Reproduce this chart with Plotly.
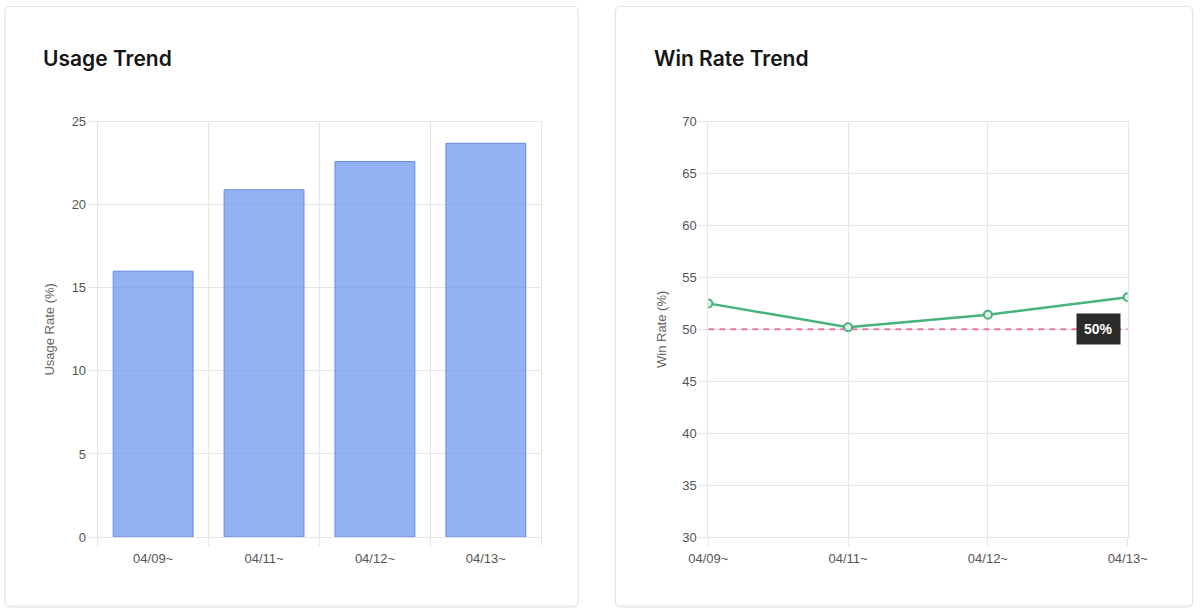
import plotly.graph_objects as go

# ---- data ----
categories = ["04/09~", "04/11~", "04/12~", "04/13~"]
usage_rate = [16.0, 20.9, 22.6, 23.7]
win_rate = [52.5, 50.2, 51.4, 53.1]
threshold = 50
usage_title = "Usage Trend"
win_title = "Win Rate Trend"

W, H = 1200, 616


def px(x):
    return x / W


def py(y):
    return 1 - y / H


GRID = "#e6e6e6"
TICKFONT = dict(family="Liberation Sans, Arial, sans-serif", size=13, color="#555")
AXTITLEFONT = dict(family="Liberation Sans, Arial, sans-serif", size=13, color="#666")

xs = list(range(len(categories)))

fig = go.Figure()

fig.add_trace(go.Bar(
    x=xs, y=usage_rate, width=0.72,
    marker=dict(color="rgba(100,145,237,0.7)", line=dict(color="rgb(98,138,230)", width=1)),
    xaxis="x", yaxis="y", showlegend=False, hoverinfo="skip",
))

fig.add_trace(go.Scatter(
    x=[xs[0], xs[-1]], y=[threshold, threshold], mode="lines",
    line=dict(color="rgba(232,100,135,0.85)", width=2, dash="6px,5px"),
    xaxis="x2", yaxis="y2", showlegend=False, hoverinfo="skip",
))

fig.add_trace(go.Scatter(
    x=xs, y=win_rate, mode="lines+markers",
    line=dict(color="#48b37a", width=2.5),
    marker=dict(size=8, color="#e3f4ea", line=dict(color="#48b37a", width=2)),
    xaxis="x2", yaxis="y2", showlegend=False, hoverinfo="skip",
))

common_axis = dict(showline=True, mirror=True, linecolor=GRID, linewidth=1,
                   gridcolor=GRID, gridwidth=1, zeroline=False, automargin=False,
                   tickfont=TICKFONT, ticks="outside", ticklen=8, tickcolor=GRID)

fig.update_layout(
    width=W, height=H, autosize=False,
    margin=dict(l=0, r=0, t=0, b=0, pad=0, autoexpand=False),
    paper_bgcolor="white", plot_bgcolor="white",
    xaxis=dict(domain=[px(97.7), px(541.3)], range=[-0.5, len(categories) - 0.5],
               tickmode="array", tickvals=xs, ticktext=categories,
               showgrid=False, ticks="", showline=True, mirror=True, linecolor=GRID,
               tickfont=TICKFONT, zeroline=False, automargin=False, ticklabelstandoff=9,
               minor=dict(tickmode="array", tickvals=[i - 0.5 for i in range(len(categories) + 1)],
                          showgrid=True, gridcolor=GRID, ticks="outside", ticklen=8, tickcolor=GRID),
               anchor="y"),
    yaxis=dict(domain=[py(537), py(121.7)], range=[0, 25], tickmode="linear", tick0=0, dtick=5,
               title=dict(text="Usage Rate (%)", font=AXTITLEFONT, standoff=14),
               anchor="x", **common_axis),
    xaxis2=dict(domain=[px(708.3), px(1127.7)], range=[0, len(categories) - 1],
                tickmode="array", tickvals=xs, ticktext=categories, showgrid=True,
                ticklabelstandoff=1, anchor="y2", **common_axis),
    yaxis2=dict(domain=[py(537), py(121.7)], range=[30, 70], tickmode="linear", tick0=30, dtick=5,
                title=dict(text="Win Rate (%)", font=AXTITLEFONT, standoff=12),
                anchor="x2", **common_axis),
)


def card(x0, y0, x1, y1, r=5):
    path = (f"M {px(x0 + r)} {py(y0)} L {px(x1 - r)} {py(y0)} "
            f"Q {px(x1)} {py(y0)} {px(x1)} {py(y0 + r)} L {px(x1)} {py(y1 - r)} "
            f"Q {px(x1)} {py(y1)} {px(x1 - r)} {py(y1)} L {px(x0 + r)} {py(y1)} "
            f"Q {px(x0)} {py(y1)} {px(x0)} {py(y1 - r)} L {px(x0)} {py(y0 + r)} "
            f"Q {px(x0)} {py(y0)} {px(x0 + r)} {py(y0)} Z")
    return path


shapes = []
for (x0, x1) in [(5, 578), (615.5, 1192.5)]:
    shapes.append(dict(type="path", xref="paper", yref="paper",
                       path=card(x0, 7.5, x1, 607.5), line=dict(color="#ececec", width=1),
                       fillcolor="rgba(0,0,0,0)", layer="below"))
    shapes.append(dict(type="path", xref="paper", yref="paper",
                       path=card(x0, 6.5, x1, 606), line=dict(color="#e2e2e2", width=1),
                       fillcolor="white", layer="below"))
fig.update_layout(shapes=shapes)

TITLEFONT = dict(family="Inter, Noto Sans, sans-serif", size=21, color="#151515", weight=600)
fig.add_annotation(xref="paper", yref="paper", x=px(41), y=py(59), text=usage_title,
                   showarrow=False, xanchor="left", yanchor="middle", font=TITLEFONT)
fig.add_annotation(xref="paper", yref="paper", x=px(652), y=py(59), text=win_title,
                   showarrow=False, xanchor="left", yanchor="middle", font=TITLEFONT)

fig.add_annotation(xref="x2", yref="y2", x=xs[-1], y=threshold, text=f"<b>{threshold}%</b>",
                   showarrow=False, xanchor="right", yanchor="middle", xshift=-7,
                   bgcolor="#2b2b2b", borderpad=7,
                   font=dict(family="Liberation Sans, Arial, sans-serif", size=14, color="white"))

fig.write_html("out.html")
